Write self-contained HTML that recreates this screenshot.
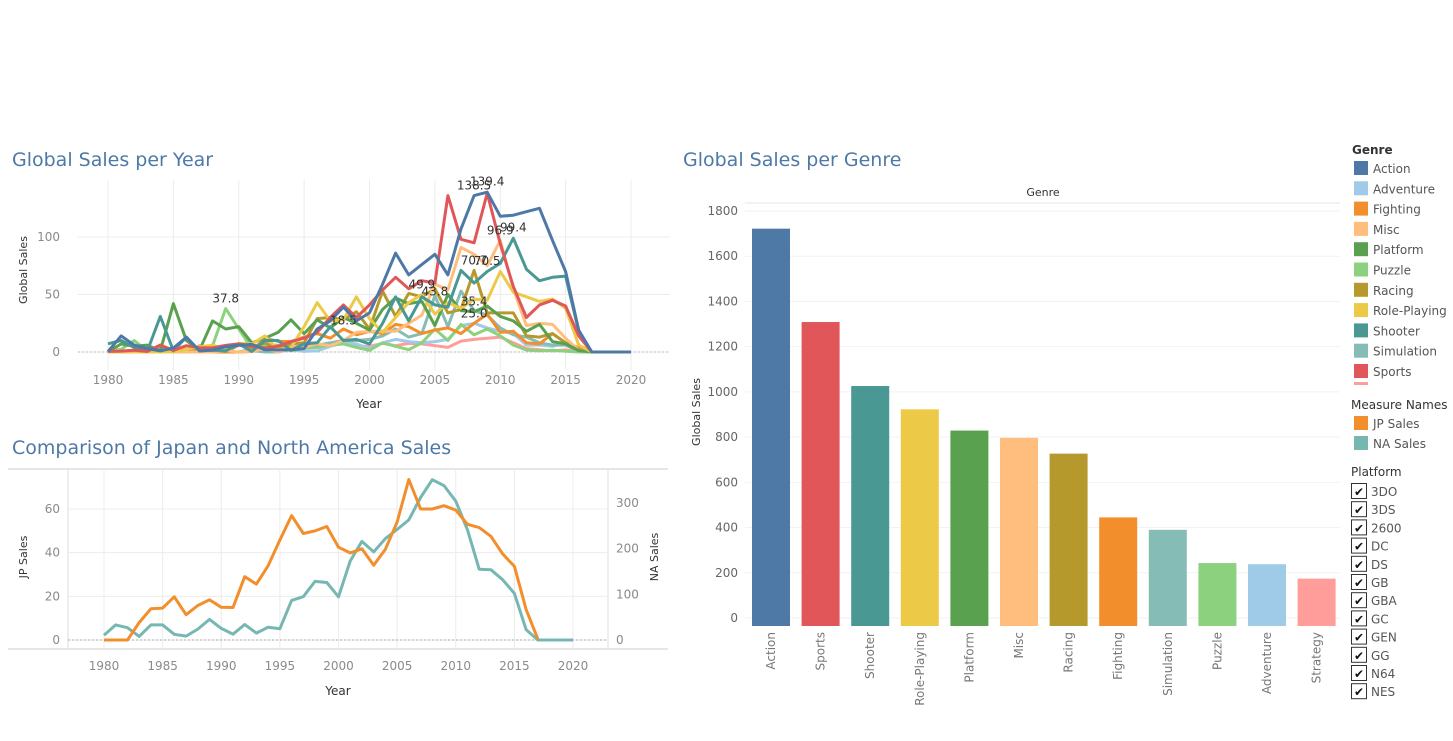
<!DOCTYPE html>
<html><head><meta charset="utf-8">
<style>
body{margin:0;background:#fff;font-family:"Liberation Sans","DejaVu Sans",sans-serif;}
svg text{font-family:"DejaVu Sans","Liberation Sans",sans-serif;}
</style></head>
<body>
<svg id="s" width="1453" height="736" viewBox="0 0 1453 736" xmlns="http://www.w3.org/2000/svg">
<text x="12" y="166" font-size="19" fill="#4e79a7">Global Sales per Year</text>
<text x="12" y="454" font-size="19" fill="#4e79a7">Comparison of Japan and North America Sales</text>
<text x="683" y="166" font-size="19" fill="#4e79a7">Global Sales per Genre</text>
<g id="c1"></g>
<g id="c2"></g>
<g id="c3"></g>
<g id="lg"></g>
</svg>
<script>
const years=[];for(let y=1980;y<=2020;y++)years.push(y);
const genreNames=["Action","Adventure","Fighting","Misc","Platform","Puzzle","Racing","Role-Playing","Shooter","Simulation","Sports","Strategy"];
const genreColors={"Action":"#4e79a7","Adventure":"#a0cbe8","Fighting":"#f28e2b","Misc":"#ffbe7d","Platform":"#59a14f","Puzzle":"#8cd17d","Racing":"#b6992d","Role-Playing":"#edc948","Shooter":"#499894","Simulation":"#86bcb6","Sports":"#e15759","Strategy":"#ff9d9a"};
const Z4=[0,0,0,0];
const actionSales=[0.3,14,6,3,1,3.5,13,1,1.7,4.6,6,6.6,2,1.8,2,3,20,27,39,27,34,59,86,67,76,85,67,107,136,139,118,119,122,125,97,70,19,0].concat([0,0,0]);
const sportsSales=[0.5,0.8,1.5,0.5,6,1.5,5.5,3.7,3.6,5.7,7,5,3.5,5,9,12,17,30,41,30,41,54,65,55,62,60,136,98,95,138,94,57,30,41,45,40,14,0,0,0,0];
const shooterSales=[7.1,10,3.8,0.5,31,1,13,1,1.5,1,7,0.4,10,10,1.5,7,8,22,10,11,7,25,48,27,48,41,39,71,60,70,77,99,72,62,65,66,18,0,0,0,0];
const rpgSales=[0,0,0,0,0,0,2.5,4.6,5.9,2.2,7.6,7,14,2,4,22,43,27,28,48,29,17,30,43,50,33,43,38,46,45,70,52,48,44,46,38,6,0,0,0,0];
const platformSales=[0,7,5,6,1,42,10,1.6,27,20,22,8,12,17,28,16,28,21,30,25,19,37,47,42,44,23,50,36,35,40,31,27,18,24,9,7,1.3,0,0,0,0];
const miscSales=[2.7,0,1,0,1.5,0,0,0,0,1.3,0,0.8,3,0,3.4,4,7,5.5,10,17,18,18,18,25,32,59,54,91,85,75,97,55,23,25,24,12,1.5,0,0,0,0];
const racingSales=[0,0.5,1.6,0,6,0,2,0.6,6,0,6,4,8,2,7,8,29,30,28,35,20,53,31,51,48,55,34,37,71,34,34,34,14,13,16,8,2,0,0,0,0];
const fightingSales=[0.8,0,0,0,0,0,0,5.4,0,0,0,0.4,12,9.3,9,13,16,12,20,15,18,16,24,22,16,19,21,16,25,33,17,18,8,7,16,8,3.6,0,0,0,0];
const simulationSales=[0,0.5,0,0,0,0,0,0,0,0,0,1.5,0,0.1,3,3.6,6,8,10,10,11,14,20,13,16,49,22,53,36,32,21,15,13,8,6,6,1,0,0,0,0];
const puzzleSales=[1.2,2.3,10,0.8,3,3,0,0,5.6,37.8,20,3,6,6,1,3.4,3.9,6,7,4,1.5,8,5,2,8,20,10,24,15,20,14,6,1.7,1,1.5,0.7,0,0,0,0,0];
const adventureSales=[0,0,0,0.4,0,0,0,0,0,0,0,2.5,11,0,2,0.5,1,5,8,7,3,8,11,9,8,9,11,23,25,21,18,16,6,6,5,8,1,0,0,0,0];
const strategySales=[0,0,0,0,0,0,0,0,0,0,0,0.9,0.4,0,3.6,6.5,5.6,7.7,9,5,5,7.5,5.5,7.5,7,5.5,4,9.5,11,12,13,8,3,2,1,1.8,0.5,0,0,0,0];
const yearLabels=[[1989,37.8,"37.8"],[1998,18.5,"18.5"],[2004,49.9,"49.9"],[2005,43.8,"43.8"],[2008,136,"138.5"],[2009,139.4,"139.4"],[2010,96.9,"96.9"],[2008,70.7,"70.7"],[2009,70.5,"70.5"],[2011,99.4,"99.4"],[2008,35.4,"35.4"],[2008,25.0,"25.0"]];
const jpSales=[0,0,0,8,14.3,14.6,19.8,11.6,15.8,18.4,15,14.9,29,25.6,34,45.8,57,48.8,50,52,42.5,39.9,41.8,34.2,41.6,54,73.5,60,60,61.5,59.5,53,51.5,47.5,39.5,33.7,14,0.5,null,null,null];
const naSales=[10.6,33,27,7.8,33,33,12.5,8.5,23.9,45,25.5,12.8,33.9,15,28,24.8,86.8,94.8,128.4,126,94.5,173,216,193,222,242,263,312,351,338,304,241,155,154,132,102,22.7,0,0,0,0];
const barGenres=["Action","Sports","Shooter","Role-Playing","Platform","Misc","Racing","Fighting","Simulation","Puzzle","Adventure","Strategy"];
const barValues=[1722,1309,1026,923,829,797,727,445,390,243,238,174];
const xTicks=[1980,1985,1990,1995,2000,2005,2010,2015,2020];
const yTicks1=[0,50,100];
const jpTicks=[0,20,40,60];
const naTicks=[0,100,200,300];
const barTicks=[0,200,400,600,800,1000,1200,1400,1600,1800];
const platforms=["3DO","3DS","2600","DC","DS","GB","GBA","GC","GEN","GG","N64","NES","NG"];
const series={"Strategy":strategySales,"Adventure":adventureSales,"Puzzle":puzzleSales,"Simulation":simulationSales,"Fighting":fightingSales,"Racing":racingSales,"Misc":miscSales,"Platform":platformSales,"Role-Playing":rpgSales,"Shooter":shooterSales,"Sports":sportsSales,"Action":actionSales};

const NS="http://www.w3.org/2000/svg";
function mk(p,t,a,txt){const e=document.createElementNS(NS,t);for(const k in a)e.setAttribute(k,a[k]);if(txt!==undefined)e.textContent=txt;p.appendChild(e);return e;}
const GRID="#ececec",TICK="#8a8a8a";

// Chart 1
const c1=document.getElementById('c1');
const x1=y=>108+(y-1980)*13.075, y1=v=>352-v*1.15;
for(const t of xTicks){const l=mk(c1,'line',{x1:x1(t),x2:x1(t),y1:180,y2:370,stroke:GRID});
const tx=mk(c1,'text',{x:x1(t),y:384,'font-size':12,fill:TICK,'text-anchor':'middle'},t);}
for(const t of yTicks1){const l=mk(c1,'line',{x1:78,x2:670,y1:y1(t),y2:y1(t),stroke:GRID});
const tx=mk(c1,'text',{x:60,y:y1(t)+4,'font-size':12,fill:TICK,'text-anchor':'end'},t);}
mk(c1,'line',{x1:78,x2:670,y1:352,y2:352,stroke:'#bbb','stroke-dasharray':'2,2'});
for(const g in series){const d=series[g].map((v,i)=>(i?'L':'M')+x1(years[i]).toFixed(1)+','+y1(v).toFixed(1)).join('');
const p=mk(c1,'path',{d:d,fill:'none',stroke:genreColors[g],'stroke-width':3,'stroke-linejoin':'round'});}
for(const L of yearLabels){const t=mk(c1,'text',{x:x1(L[0]),y:y1(L[1])-6,'font-size':12,fill:'#333','text-anchor':'middle'},L[2]);}
let t=mk(c1,'text',{x:369,y:408,'font-size':12,fill:'#333','text-anchor':'middle'},'Year');
t=mk(c1,'text',{x:0,y:0,'font-size':11,fill:'#333','text-anchor':'middle',transform:'translate(27,270) rotate(-90)'},'Global Sales');

// Chart 2
const c2=document.getElementById('c2');
const x2=y=>104+(y-1980)*11.725, yj=v=>640-v*2.183, yn=v=>640-v*0.4567;
mk(c2,'line',{x1:8,x2:668,y1:469,y2:469,stroke:'#ccc'});
mk(c2,'line',{x1:8,x2:668,y1:649,y2:649,stroke:'#ccc'});
mk(c2,'line',{x1:68,x2:68,y1:469,y2:649,stroke:'#ddd'});
mk(c2,'line',{x1:608,x2:608,y1:469,y2:649,stroke:'#ddd'});
for(const tt of xTicks){const l=mk(c2,'line',{x1:x2(tt),x2:x2(tt),y1:469,y2:649,stroke:GRID});
const tx=mk(c2,'text',{x:x2(tt),y:670,'font-size':12,fill:TICK,'text-anchor':'middle'},tt);}
for(const tt of jpTicks){const l=mk(c2,'line',{x1:68,x2:608,y1:yj(tt),y2:yj(tt),stroke:GRID});
const tx=mk(c2,'text',{x:60,y:yj(tt)+4,'font-size':12,fill:TICK,'text-anchor':'end'},tt);}
for(const tt of naTicks){const tx=mk(c2,'text',{x:616,y:yn(tt)+4,'font-size':12,fill:TICK},tt);}
mk(c2,'line',{x1:68,x2:608,y1:640,y2:640,stroke:'#aaa','stroke-dasharray':'2,2'});
function pathOf(arr,fy){let d='',pen=false;arr.forEach((v,i)=>{if(v===null){pen=false;return;}d+=(pen?'L':'M')+x2(years[i]).toFixed(1)+','+fy(v).toFixed(1);pen=true;});return d;}
let p=mk(c2,'path',{d:pathOf(naSales,yn),fill:'none',stroke:'#76b7b2','stroke-width':3,'stroke-linejoin':'round'});
p=mk(c2,'path',{d:pathOf(jpSales,yj),fill:'none',stroke:'#f28e2b','stroke-width':3,'stroke-linejoin':'round'});
t=mk(c2,'text',{x:338,y:695,'font-size':12,fill:'#333','text-anchor':'middle'},'Year');
t=mk(c2,'text',{x:0,y:0,'font-size':11,fill:'#333','text-anchor':'middle',transform:'translate(27,557) rotate(-90)'},'JP Sales');
t=mk(c2,'text',{x:0,y:0,'font-size':11,fill:'#333','text-anchor':'middle',transform:'translate(658,557) rotate(-90)'},'NA Sales');

// Chart 3
const c3=document.getElementById('c3');
const yb=v=>618-v*0.2261, xb=i=>771+i*49.6;
t=mk(c3,'text',{x:1043,y:196,'font-size':11,fill:'#333','text-anchor':'middle'},'Genre');
mk(c3,'line',{x1:745,x2:1340,y1:203,y2:203,stroke:'#e6e6e6'});
for(const tt of barTicks){const l=mk(c3,'line',{x1:745,x2:1340,y1:yb(tt),y2:yb(tt),stroke:'#f2f2f2'});
const tx=mk(c3,'text',{x:738,y:yb(tt)+4,'font-size':12,fill:'#666','text-anchor':'end'},tt);}
barGenres.forEach((g,i)=>{const v=barValues[i];
const r=mk(c3,'rect',{x:xb(i)-19,y:yb(v),width:38,height:Math.max(0,626-yb(v)),fill:genreColors[g]});
const tx=mk(c3,'text',{x:0,y:0,'font-size':12,fill:'#777','text-anchor':'end',transform:`translate(${xb(i)+4},632) rotate(-90)`},g);});
t=mk(c3,'text',{x:0,y:0,'font-size':11,fill:'#333','text-anchor':'middle',transform:'translate(700,412) rotate(-90)'},'Global Sales');

// Legend
const lg=document.getElementById('lg');
t=mk(lg,'text',{x:1352,y:154,'font-size':12,fill:'#333','font-weight':'bold'},'Genre');
genreNames.slice(0,11).forEach((g,i)=>{const y=161+i*20.3;
const r=mk(lg,'rect',{x:1354,y:y,width:14,height:14,fill:genreColors[g]});
const tx=mk(lg,'text',{x:1373,y:y+12,'font-size':12,fill:'#555'},g);});
mk(lg,'rect',{x:1354,y:382,width:14,height:3,fill:'#ff9d9a'});
t=mk(lg,'text',{x:1351,y:409,'font-size':12,fill:'#333'},'Measure Names');
[["JP Sales","#f28e2b"],["NA Sales","#76b7b2"]].forEach((m,i)=>{const y=416+i*20;
const r=mk(lg,'rect',{x:1354,y:y,width:14,height:14,fill:m[1]});
const tx=mk(lg,'text',{x:1373,y:y+12,'font-size':12,fill:'#555'},m[0]);});
t=mk(lg,'text',{x:1351,y:476,'font-size':12,fill:'#333'},'Platform');
platforms.forEach((pl,i)=>{const y=483+i*18.2;if(y>700)return;
const r=mk(lg,'rect',{x:1351.5,y:y+0.5,width:15,height:15,fill:'#fff',stroke:'#333'});
mk(lg,'text',{x:1359,y:y+13,'font-size':12,fill:'#111','text-anchor':'middle'},'✔');
const tx=mk(lg,'text',{x:1371,y:y+13,'font-size':12,fill:'#555'},pl);});
</script>
</body></html>
